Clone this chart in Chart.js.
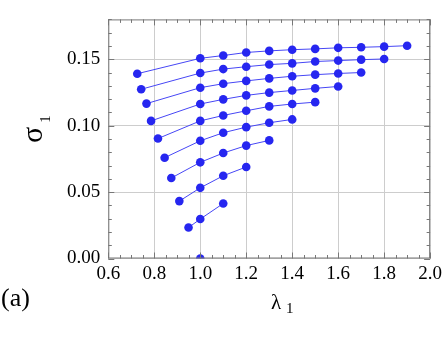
<!DOCTYPE html>
<html>
<head>
<meta charset="utf-8">
<script src="https://cdn.jsdelivr.net/npm/chart.js@4"></script>
<style>
  html, body { margin: 0; padding: 0; background: #fff; }
</style>
</head>
<body>
<canvas id="grafico" width="446" height="343"></canvas>
<script>
// lambda values on the regular grid (after the first point of each curve)
const lambdaSteps = [1.0, 1.1, 1.2, 1.3, 1.4, 1.5, 1.6, 1.7, 1.8, 1.9];
// first lambda of each curve
const lambdaStart = [0.726, 0.743, 0.766, 0.786, 0.816, 0.845, 0.874, 0.909, 0.949, 1.0];

// sigma_1 per curve: first value at lambdaStart, then at lambdaSteps
const sigmaA = [0.1391, 0.1507, 0.1528, 0.1551, 0.1563, 0.1572, 0.1578, 0.1586, 0.1590, 0.1595, 0.1602];
const sigmaB = [0.1274, 0.1396, 0.1426, 0.1444, 0.1460, 0.1469, 0.1483, 0.1490, 0.1497, 0.1502];
const sigmaC = [0.1166, 0.1286, 0.1316, 0.1337, 0.1356, 0.1372, 0.1384, 0.1393, 0.1400];
const sigmaD = [0.1036, 0.1163, 0.1198, 0.1228, 0.1249, 0.1265, 0.1281, 0.1295];
const sigmaE = [0.0903, 0.1036, 0.1077, 0.1112, 0.1145, 0.1163, 0.1177];
const sigmaF = [0.0759, 0.0886, 0.0947, 0.0989, 0.1022, 0.1047];
const sigmaG = [0.0606, 0.0724, 0.0794, 0.0850, 0.0889];
const sigmaH = [0.0432, 0.0532, 0.0623, 0.0689];
const sigmaI = [0.0233, 0.0297, 0.0414];
const sigmaJ = [0.0];

const xTicks = [0.6, 0.8, 1.0, 1.2, 1.4, 1.6, 1.8, 2.0];
const yTicks = [0.00, 0.05, 0.10, 0.15];

const curvas = [sigmaA, sigmaB, sigmaC, sigmaD, sigmaE, sigmaF, sigmaG, sigmaH, sigmaI, sigmaJ];

const datasets = curvas.map(function(s, i) {
    const pts = [{ x: lambdaStart[i], y: s[0] }];
    s.slice(1).forEach(function(v, j) { pts.push({ x: lambdaSteps[j], y: v }); });
    return {
        data: pts,
        borderColor: 'rgb(70,70,245)',
        borderWidth: 1,
        backgroundColor: 'rgb(38,38,240)',
        pointBackgroundColor: 'rgb(38,38,240)',
        pointBorderWidth: 0,
        pointRadius: 4.3,
        tension: 0,
        clip: 0
    };
});

const serif = "'Liberation Serif', 'Times New Roman', serif";

// frame with inward ticks + axis labels
const moldura = {
    id: 'moldura',
    afterDatasetsDraw: function(chart) {
        const ctx = chart.ctx;
        const a = chart.chartArea;
        const xs = chart.scales.x, ys = chart.scales.y;
        ctx.save();
        ctx.strokeStyle = '#777';
        ctx.lineWidth = 1;
        ctx.strokeRect(a.left + 0.5, a.top + 0.5, a.right - a.left - 1, a.bottom - a.top - 1);
        ctx.beginPath();
        for (let i = 0; i <= 28; i++) {
            const v = 0.6 + i * 0.05;
            const len = (i % 4 === 0) ? 6 : 3.5;
            const px = Math.round(xs.getPixelForValue(v)) + 0.5;
            ctx.moveTo(px, a.bottom); ctx.lineTo(px, a.bottom - len);
            ctx.moveTo(px, a.top); ctx.lineTo(px, a.top + len);
        }
        for (let i = 0; i <= 18; i++) {
            const v = i * 0.01;
            const len = (i % 5 === 0) ? 6 : 3.5;
            const py = Math.round(ys.getPixelForValue(v)) + 0.5;
            ctx.moveTo(a.left, py); ctx.lineTo(a.left + len, py);
            ctx.moveTo(a.right, py); ctx.lineTo(a.right - len, py);
        }
        ctx.stroke();

        ctx.fillStyle = '#000';
        ctx.textBaseline = 'alphabetic';
        ctx.textAlign = 'left';
        // (a)
        ctx.font = '26px ' + serif;
        ctx.fillText('(a)', 1, 306);
        // lambda_1
        ctx.font = '21px ' + serif;
        ctx.fillText('\u03BB', 271, 309);
        ctx.font = '15px ' + serif;
        ctx.fillText('1', 286, 313);
        // sigma_1 rotated
        ctx.translate(42, 143);
        ctx.rotate(-Math.PI / 2);
        ctx.font = '30px ' + serif;
        ctx.fillText('\u03C3', 0, 0);
        const w = ctx.measureText('\u03C3').width;
        ctx.font = '15px ' + serif;
        ctx.fillText('1', w + 4, 8);
        ctx.restore();
    }
};

new Chart(document.getElementById('grafico'), {
    type: 'line',
    data: { datasets: datasets },
    plugins: [moldura],
    options: {
        responsive: false,
        animation: false,
        devicePixelRatio: 1,
        layout: { padding: { left: 0, right: 12.7, top: 1, bottom: 0 } },
        plugins: { legend: { display: false }, tooltip: { enabled: false } },
        scales: {
            x: {
                type: 'linear',
                min: 0.6,
                max: 2.0,
                afterBuildTicks: function(scale) {
                    scale.ticks = xTicks.map(function(v) { return { value: v }; });
                },
                afterFit: function(scale) { scale.height = 84.5; },
                ticks: {
                    padding: 4,
                    color: '#000',
                    maxRotation: 0,
                    autoSkip: false,
                    font: { family: serif, size: 19 },
                    callback: function(v) { return Number(v).toFixed(1); }
                },
                grid: { color: '#cdcdcd', drawTicks: false },
                border: { display: false }
            },
            y: {
                type: 'linear',
                min: 0,
                max: 0.18,
                afterBuildTicks: function(scale) {
                    scale.ticks = yTicks.map(function(v) { return { value: v }; });
                },
                afterFit: function(scale) { scale.width = 108.3; },
                ticks: {
                    padding: 8,
                    color: '#000',
                    autoSkip: false,
                    font: { family: serif, size: 19 },
                    callback: function(v) { return Number(v).toFixed(2); }
                },
                grid: { color: '#cdcdcd', drawTicks: false },
                border: { display: false }
            }
        }
    }
});
</script>
</body>
</html>
